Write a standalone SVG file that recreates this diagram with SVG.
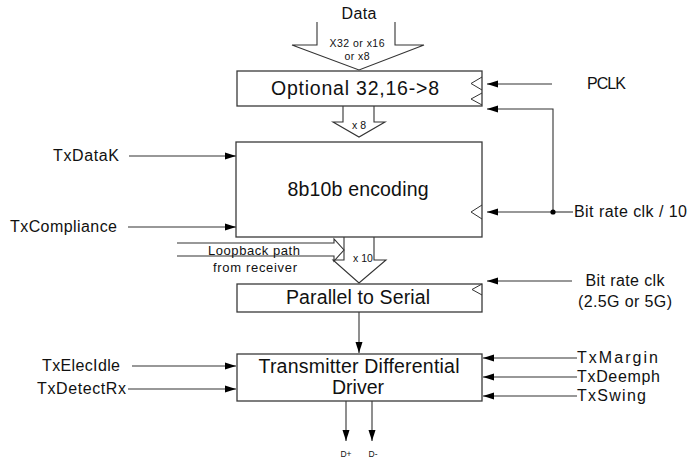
<svg xmlns="http://www.w3.org/2000/svg" width="688" height="461" viewBox="0 0 688 461">
<defs>
<marker id="ah" markerUnits="userSpaceOnUse" markerWidth="11" markerHeight="8" refX="11" refY="4" orient="auto">
<path d="M0,0.5 L11,4 L0,7.5 z" fill="#000"/>
</marker>
<style>
.box{fill:#fff;stroke:#3a3a3a;stroke-width:1.3}
.ln{fill:none;stroke:#333;stroke-width:1.1}
.arr{fill:none;stroke:#333;stroke-width:1.1;marker-end:url(#ah)}
.blk{fill:#fff;stroke:#333;stroke-width:1.1}
.clk{fill:none;stroke:#333;stroke-width:1}
text{font-family:"Liberation Sans",Arial,sans-serif;fill:#111}
.big{font-size:19.5px;text-anchor:middle}
.lbl{font-size:16px}
.sm{font-size:10.5px;text-anchor:middle}
.md{font-size:13px;text-anchor:middle}
.tiny{font-size:8.5px;text-anchor:middle}
</style>
</defs>

<g id="connectors">
<polyline class="blk" points="317,22 317,45 292,45 359,70 424,45 395,45 395,22"/>
<polyline class="blk" points="343,106 343,122 333,122 359,137 385,122 374,122 374,106"/>
<polyline class="blk" points="344,237 344,260 333,260 359,283 386,260 374,260 374,237"/>
<polyline class="blk" points="177,243 334,243 334,239 344,250 334,261 334,256 177,256"/>
<line class="arr" x1="552" y1="84" x2="487" y2="84"/>
<polyline class="arr" points="553,212 553,109 487,109"/>
<line class="arr" x1="553" y1="212" x2="487" y2="212"/>
<line class="ln" x1="553" y1="212" x2="573" y2="212"/>
<circle cx="553" cy="212" r="2.6" fill="#000"/>
<line class="arr" x1="572" y1="281" x2="487" y2="281"/>
<line class="arr" x1="129" y1="156" x2="236" y2="156"/>
<line class="arr" x1="128" y1="227" x2="236" y2="227"/>
<line class="arr" x1="132" y1="366" x2="236" y2="366"/>
<line class="arr" x1="128" y1="389" x2="236" y2="389"/>
<line class="arr" x1="577" y1="358" x2="483" y2="358"/>
<line class="arr" x1="577" y1="377" x2="483" y2="377"/>
<line class="arr" x1="577" y1="396" x2="483" y2="396"/>
<line class="arr" x1="359" y1="312" x2="359" y2="353"/>
<line class="arr" x1="346" y1="401" x2="346" y2="441"/>
<line class="arr" x1="372" y1="401" x2="372" y2="441"/>
</g>

<g id="node-optional">
<rect class="box" x="237" y="71" width="245" height="35"/>
<polyline class="clk" points="482,77 471,83.5 482,90"/>
<polyline class="clk" points="482,93 471,99 482,105"/>
<text class="big" x="355" y="95" textLength="168" lengthAdjust="spacing">Optional 32,16-&gt;8</text>
</g>

<g id="node-encoding">
<rect class="box" x="236" y="142" width="246" height="95"/>
<polyline class="clk" points="482,205 471,212 482,219"/>
<text class="big" x="358" y="196" textLength="141" lengthAdjust="spacing">8b10b encoding</text>
</g>

<g id="node-p2s">
<rect class="box" x="237" y="284" width="245" height="28"/>
<polyline class="clk" points="482,284 472,289.5 482,295"/>
<text class="big" x="358" y="304" textLength="144" lengthAdjust="spacing">Parallel to Serial</text>
</g>

<g id="node-driver">
<rect class="box" x="237" y="354" width="245" height="47"/>
<text class="big" x="359" y="373" textLength="201" lengthAdjust="spacing">Transmitter Differential</text>
<text class="big" x="358" y="394" textLength="52" lengthAdjust="spacing">Driver</text>
</g>

<g id="labels">
<text class="lbl" x="359" y="19" text-anchor="middle" textLength="35" lengthAdjust="spacing">Data</text>
<text class="sm" x="357" y="47" textLength="55" lengthAdjust="spacing">X32 or x16</text>
<text class="sm" x="357" y="60" textLength="25" lengthAdjust="spacing">or x8</text>
<text class="sm" x="359" y="129">x 8</text>
<text class="sm" x="363" y="262">x 10</text>
<text class="lbl" x="587" y="89" textLength="39" lengthAdjust="spacing">PCLK</text>
<text class="lbl" x="53" y="161" textLength="66" lengthAdjust="spacing">TxDataK</text>
<text class="lbl" x="10" y="232" textLength="107" lengthAdjust="spacing">TxCompliance</text>
<text class="lbl" x="574" y="217" textLength="113" lengthAdjust="spacing">Bit rate clk / 10</text>
<text class="md" x="254" y="255" textLength="92" lengthAdjust="spacing">Loopback path</text>
<text class="md" x="255" y="272" textLength="84" lengthAdjust="spacing">from receiver</text>
<text class="lbl" x="625" y="286" text-anchor="middle" textLength="79" lengthAdjust="spacing">Bit rate clk</text>
<text class="lbl" x="625" y="307" text-anchor="middle" textLength="94" lengthAdjust="spacing">(2.5G or 5G)</text>
<text class="lbl" x="42" y="371" textLength="78" lengthAdjust="spacing">TxElecIdle</text>
<text class="lbl" x="37" y="394" textLength="89" lengthAdjust="spacing">TxDetectRx</text>
<text class="lbl" x="577" y="363" textLength="81" lengthAdjust="spacing">TxMargin</text>
<text class="lbl" x="577" y="382" textLength="83" lengthAdjust="spacing">TxDeemph</text>
<text class="lbl" x="577" y="401" textLength="69" lengthAdjust="spacing">TxSwing</text>
<text class="tiny" x="346" y="457">D+</text>
<text class="tiny" x="373" y="457">D-</text>
</g>
</svg>
